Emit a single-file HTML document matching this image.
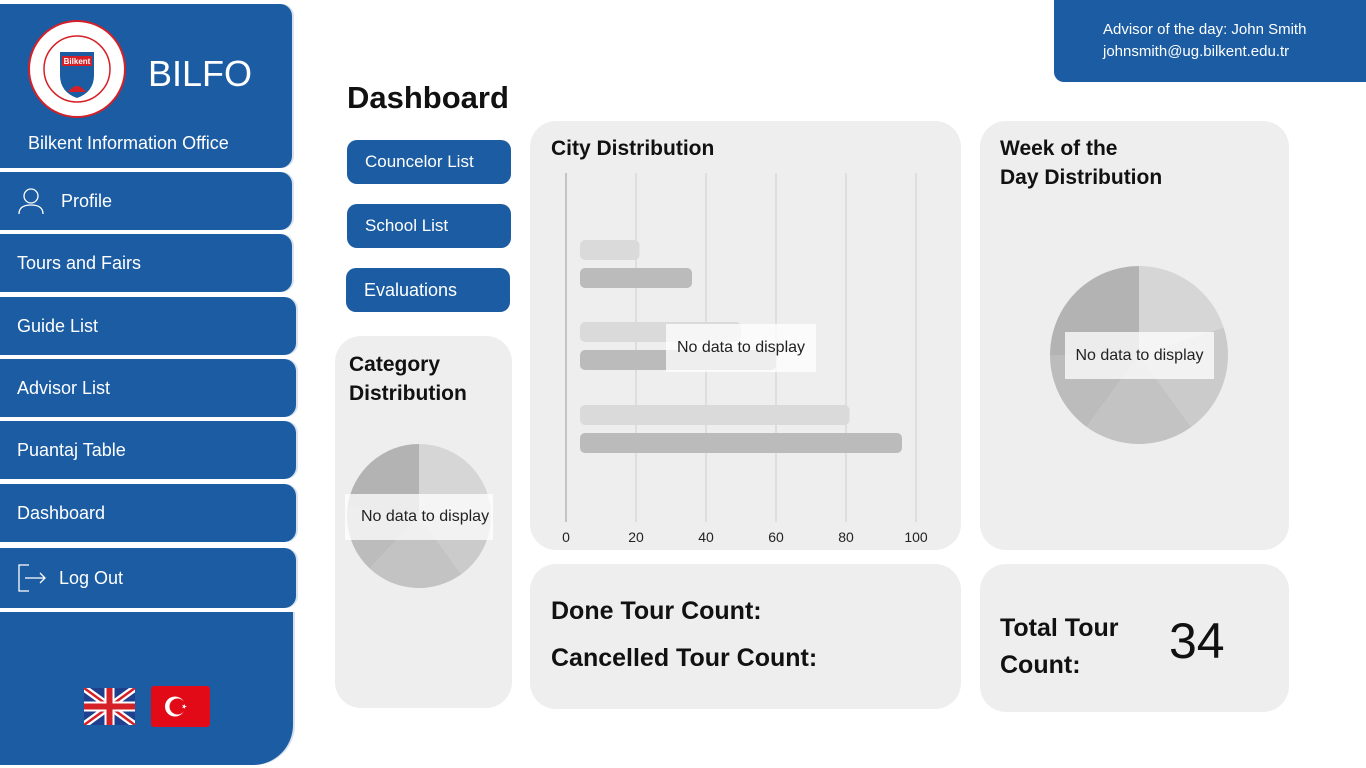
<!DOCTYPE html>
<html><head><meta charset="utf-8">
<style>
*{box-sizing:border-box;margin:0;padding:0}
body{width:1366px;height:768px;background:#fff;font-family:"Liberation Sans",sans-serif;position:relative;overflow:hidden}
.abs{position:absolute}
.side{background:#1b5ca3;color:#fff;border-radius:0 12px 12px 0;box-shadow:2px 0 0 #d8e2ee}
.nav{font-size:18px;padding-left:17px;display:flex;align-items:center}
.btn{background:#1b5ca3;color:#fff;border-radius:10px;font-size:17px;padding-left:18px;display:flex;align-items:center}
.card{background:#eeeeee;border-radius:26px}
.title{font-weight:bold;font-size:21px;color:#111}
.nodata{background:rgba(255,255,255,.75);font-size:16px;color:#222;display:flex;align-items:center;justify-content:center}
</style></head><body>
<div class="abs side" style="left:0;top:4px;width:292px;height:164px;border-radius:0 12px 12px 0"></div>
<svg class="abs" style="left:28px;top:20px" width="98" height="98" viewBox="0 0 98 98"><circle cx="49" cy="49" r="48" fill="#fff" stroke="#d62028" stroke-width="2"/><circle cx="49" cy="49" r="33" fill="none" stroke="#d62028" stroke-width="1.5"/><path d="M32 32 L66 32 L66 55 Q66 72 49 78 Q32 72 32 55 Z" fill="#1b5ca3"/><rect x="34" y="36" width="30" height="10" fill="#d62028"/><text x="49" y="44" font-size="8" fill="#fff" text-anchor="middle" font-weight="bold">Bilkent</text><path d="M40 72 Q49 60 58 72 Z" fill="#d62028"/></svg>
<div class="abs" style="left:148px;top:53px;font-size:36px;color:#fff">BILFO</div>
<div class="abs" style="left:28px;top:133px;font-size:18px;color:#fff">Bilkent Information Office</div>

<div class="abs side nav" style="left:0;top:172px;width:292px;height:58px;padding-left:17px"><svg width="28" height="28" viewBox="0 0 28 28" style="margin-right:16px"><circle cx="14" cy="9" r="7" fill="none" stroke="#fff" stroke-width="1.3"/><path d="M2 27 Q2 18 14 18 Q26 18 26 27" fill="none" stroke="#fff" stroke-width="1.3"/></svg>Profile</div>
<div class="abs side nav" style="left:0;top:234px;width:292px;height:58px">Tours and Fairs</div>
<div class="abs side nav" style="left:0;top:297px;width:296px;height:58px">Guide List</div>
<div class="abs side nav" style="left:0;top:359px;width:296px;height:58px">Advisor List</div>
<div class="abs side nav" style="left:0;top:421px;width:296px;height:58px">Puantaj Table</div>
<div class="abs side nav" style="left:0;top:484px;width:296px;height:58px">Dashboard</div>
<div class="abs side nav" style="left:0;top:548px;width:296px;height:60px"><svg width="30" height="30" viewBox="0 0 30 30" style="margin-right:12px"><path d="M12 2 H2 V28 H12" fill="none" stroke="#fff" stroke-width="1.3"/><path d="M8 15 H28 M23 10 L28 15 L23 20" fill="none" stroke="#fff" stroke-width="1.3"/></svg>Log Out</div>
<div class="abs side" style="left:0;top:612px;width:293px;height:153px;border-radius:0 0 40px 0"></div>
<svg class="abs" style="left:84px;top:688px" width="51" height="37" viewBox="0 0 51 37"><rect width="51" height="37" fill="#1f3f8f"/><path d="M0 0 L51 37 M51 0 L0 37" stroke="#fff" stroke-width="7"/><path d="M0 0 L51 37 M51 0 L0 37" stroke="#d62028" stroke-width="2.5"/><path d="M25.5 0 V37 M0 18.5 H51" stroke="#fff" stroke-width="10"/><path d="M25.5 0 V37 M0 18.5 H51" stroke="#d62028" stroke-width="6"/></svg>
<svg class="abs" style="left:151px;top:686px" width="59" height="41" viewBox="0 0 59 41"><rect width="59" height="41" rx="3" fill="#e30a17"/><circle cx="24" cy="20.5" r="10" fill="#fff"/><circle cx="26.5" cy="20.5" r="8" fill="#e30a17"/><polygon points="36,20.5 31,22.3 34,18 34,23 31,18.7" fill="#fff"/></svg>

<div class="abs" style="left:1054px;top:0;width:320px;height:82px;background:#1b5ca3;border-radius:0 0 0 10px;color:#fff;font-size:15px;padding:19px 0 0 49px;line-height:22px">Advisor of the day: John Smith<br>johnsmith@ug.bilkent.edu.tr</div>

<div class="abs" style="left:347px;top:80px;font-size:31px;font-weight:bold;color:#111">Dashboard</div>

<div class="abs btn" style="left:347px;top:140px;width:164px;height:44px">Councelor List</div>
<div class="abs btn" style="left:347px;top:204px;width:164px;height:44px">School List</div>
<div class="abs btn" style="left:346px;top:268px;width:164px;height:44px;font-size:18px">Evaluations</div>

<div class="abs card" style="left:335px;top:336px;width:177px;height:372px"></div>
<div class="abs title" style="left:349px;top:350px;line-height:29px">Category<br>Distribution</div>
<svg class="abs" id="catPie" style="left:0;top:0" width="1366" height="768" pointer-events="none"></svg>
<div class="abs nodata" style="left:345px;top:494px;width:148px;height:46px;justify-content:flex-start;padding-left:16px">No data to display</div>

<div class="abs card" style="left:530px;top:121px;width:431px;height:429px"></div>
<div class="abs title" style="left:551px;top:137px">City Distribution</div>
<svg class="abs" id="city" style="left:0;top:0" width="1366" height="768"></svg>
<div class="abs nodata" style="left:666px;top:324px;width:150px;height:48px">No data to display</div>

<div class="abs card" style="left:980px;top:121px;width:309px;height:429px"></div>
<div class="abs title" style="left:1000px;top:134px;line-height:29px">Week of the<br>Day Distribution</div>
<svg class="abs" id="weekPie" style="left:0;top:0" width="1366" height="768" pointer-events="none"></svg>
<div class="abs nodata" style="left:1065px;top:332px;width:149px;height:47px">No data to display</div>

<div class="abs card" style="left:530px;top:564px;width:431px;height:145px"></div>
<div class="abs title" style="left:551px;top:597px;font-size:25px">Done Tour Count:</div>
<div class="abs title" style="left:551px;top:644px;font-size:25px">Cancelled Tour Count:</div>

<div class="abs card" style="left:980px;top:564px;width:309px;height:148px"></div>
<div class="abs title" style="left:1000px;top:610px;font-size:25px;line-height:37px">Total Tour<br>Count:</div>
<div class="abs" style="left:1169px;top:612px;font-size:50px;color:#111">34</div>

<script>
const cityTicks=[0,20,40,60,80,100];
const cityLight=[21,50,81];
const cityDark=[36,60,96];
const weekVals=[20,20,20,15,25];
const catVals=[25,15,22,15,23];
const NS='http://www.w3.org/2000/svg';
function mk(p,t,a){const e=document.createElementNS(NS,t);for(const k in a)e.setAttribute(k,a[k]);p.appendChild(e);return e;}
const xs=v=>566+v*3.5;
const city=document.getElementById('city');
cityTicks.forEach(t=>{
  const l=mk(city,'line',{x1:xs(t),x2:xs(t),y1:173,y2:522,stroke:t===0?'#999':'#cfcfcf','stroke-width':1});
  
  
  const tx=mk(city,'text',{x:xs(t),y:542,'text-anchor':'middle','font-size':14,fill:'#222','font-family':'Liberation Sans'});
  tx.textContent=t;
  
  
});
const base=4;
const rowY=[240,322,405];
cityLight.forEach((v,i)=>{
  const r=mk(city,'rect',{x:xs(base),y:rowY[i],width:xs(v)-xs(base),height:20,rx:5,fill:'#dadada'});
  
  
});
cityDark.forEach((v,i)=>{
  const r=mk(city,'rect',{x:xs(base),y:rowY[i]+28,width:xs(v)-xs(base),height:20,rx:5,fill:'#bbbbbb'});
  
  
});
function pie(svg,vals,cx,cy,r,cols,name){
  const tot=vals.reduce((a,b)=>a+b,0);let a0=0;
  vals.forEach((v,i)=>{
    const a1=a0+v/tot*Math.PI*2;
    const p=(a)=>[cx+r*Math.sin(a),cy-r*Math.cos(a)];
    const [x0,y0]=p(a0),[x1,y1]=p(a1);
    const s=mk(svg,'path',{d:`M${cx} ${cy} L${x0} ${y0} A${r} ${r} 0 ${a1-a0>Math.PI?1:0} 1 ${x1} ${y1} Z`,fill:cols[i%cols.length]});
    
    
    a0=a1;
  });
}
pie(document.getElementById('weekPie'),weekVals,1139,355,89,['#d6d6d6','#cbcbcb','#c3c3c3','#bcbcbc','#b3b3b3'],'week-pie-slice');
pie(document.getElementById('catPie'),catVals,419,516,72,['#d6d6d6','#cbcbcb','#c3c3c3','#bcbcbc','#b3b3b3'],'category-pie-slice');
</script>
</body></html>
